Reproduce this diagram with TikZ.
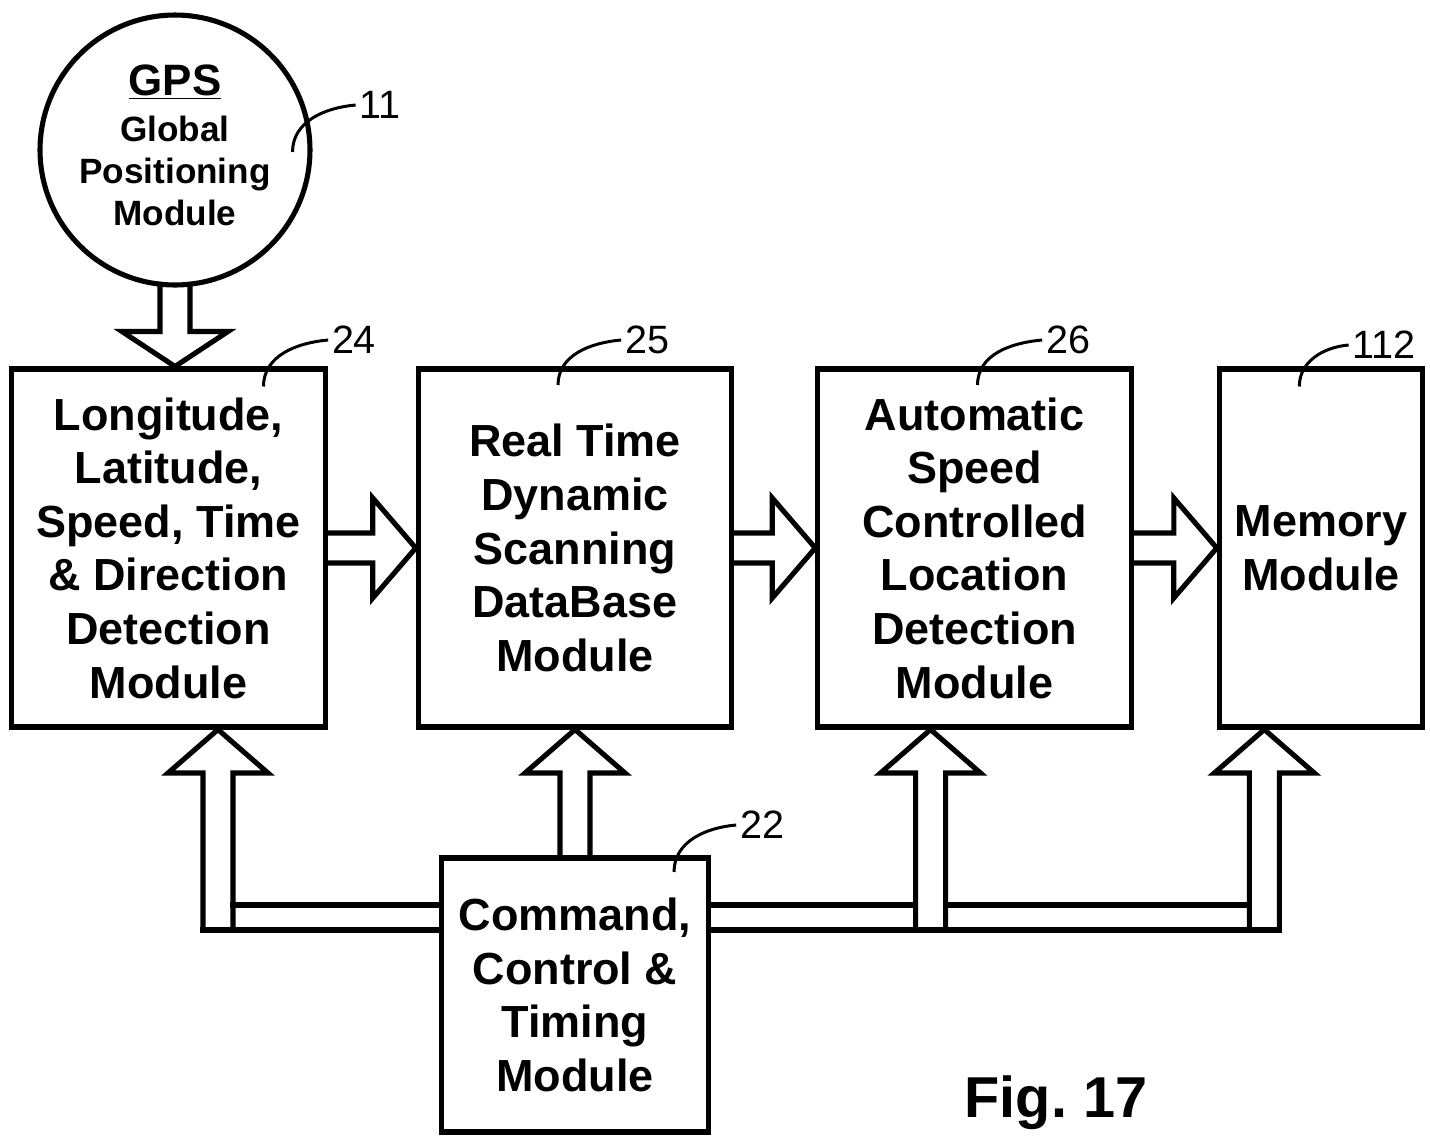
\documentclass[tikz,border=0pt]{standalone}
\usepackage{fontspec}
\setmainfont{Liberation Sans}
\usetikzlibrary{positioning}
\newcommand{\modfont}{\fontsize{25.6pt}{30.5pt}\selectfont\bfseries}
\newcommand{\numfont}{\fontsize{22.5pt}{24pt}\selectfont}
\tikzset{module/.style={rectangle,draw,line width=2.9pt,align=center,inner sep=0pt,
	 minimum width=6.27cm,minimum height=7.16cm,font=\modfont},
	 gpsmod/.style={circle,draw,line width=2.9pt,align=center,inner sep=0pt,text depth=0.2cm,
	 minimum size=5.4cm,font=\fontsize{20pt}{24pt}\selectfont\bfseries},
	 block/.style={draw,line width=2.9pt,line cap=rect},
	 leader/.style={line width=1.7pt},
	 refnum/.style={font=\numfont,inner sep=2pt}
	 }

\begin{document}
\begin{tikzpicture}[x=0.02cm,y=-0.02cm] % grid in pixels of the figure
	\useasboundingbox (0,0) rectangle (1430,1136);
	\node[gpsmod] (gps) at (175,150) {{\fontsize{25pt}{25pt}\selectfont\underline{GPS}}\\[2pt] Global\\ Positioning\\ Module};
	\node[module] (lld) at (168.5,548) {Longitude,\\ Latitude,\\ Speed, Time\\ \& Direction\\ Detection\\ Module};
	\node[module] (rtd) [right=1.76cm of lld] {Real Time\\ Dynamic\\ Scanning\\ DataBase\\ Module};
	\node[module] (asc) [right=1.62cm of rtd] {Automatic\\ Speed\\ Controlled\\ Location\\ Detection\\ Module};
	\node[module,minimum width=4.06cm] (mem) [right=1.66cm of asc] {Memory\\ Module};
	\node[module,minimum width=5.34cm,minimum height=5.48cm] (cct) [below=2.52cm of rtd] {Command,\\ Control \&\\ Timing\\ Module};
	\node[refnum] (n11) at (380,105) {11};
	\node[refnum] (n24) at (354,340) {24};
	\node[refnum] (n25) at (647,340) {25};
	\node[refnum] (n26) at (1068,340) {26};
	\node[refnum] (n112) at (1384,345) {112};
	\node[refnum] (n22) at (762,825) {22};
	\node[font=\fontsize{32.8pt}{34pt}\selectfont\bfseries] (fig) at (1056,1103) {Fig.\ 17};
	\coordinate (tg) at (gps.south |- lld.north);
	\coordinate (t24) at ([xshift=0.99cm]lld.south);
	\coordinate (t26) at ([xshift=-0.88cm]asc.south);
	\coordinate (t112) at ([xshift=-1.13cm]mem.south);
	\coordinate (bwt) at ([yshift=1.8cm]cct.west);
	\coordinate (bwb) at ([yshift=1.3cm]cct.west);
	\coordinate (bet) at ([yshift=1.8cm]cct.east);
	\coordinate (beb) at ([yshift=1.3cm]cct.east);
	\foreach \t in {t24,t26,t112} {
		\coordinate (l\t) at ([xshift=-0.3cm]\t);
		\coordinate (r\t) at ([xshift=0.3cm]\t);
	}
	% gps feed
	\draw[block] ([xshift=-0.3cm,yshift=0.06cm]gps.south) -- ([xshift=-0.3cm,yshift=0.7cm]tg) -- ++(-38,0) -- (tg) -- ++(53,-35) -- ++(-38,0) -- ([xshift=0.3cm,yshift=0.06cm]gps.south);
	% data path along the row
	\foreach \src/\dst in {lld/rtd, rtd/asc, asc/mem}
		\draw[block] ([yshift=0.3cm]\src.east) -- ([xshift=-0.86cm,yshift=0.3cm]\dst.west) -- ++(0,-35) -- (\dst.west) -- ++(-43,50) -- ++(0,-35) -- ([yshift=-0.3cm]\src.east);
	% control bus
	\foreach \t in {t24,t26,t112}
		\draw[block] (l\t |- bwb) -- ++(0,-157) -- ++(-35,0) -- (\t) -- ++(50,43.5) -- ++(-35,0) -- (r\t |- bwb);
	\draw[block] ([xshift=-0.3cm]cct.north) -- ([xshift=-0.3cm,yshift=-0.87cm]rtd.south) -- ++(-35,0) -- (rtd.south) -- ++(50,43.5) -- ++(-35,0) -- ([xshift=0.3cm]cct.north);
	\draw[block] (lt24 |- bwb) -- (bwb);
	\draw[block] (rt24 |- bwt) -- (bwt);
	\draw[block] (beb) -- (rt112 |- beb);
	\draw[block] (bet) -- (lt26 |- bet);
	\draw[block] (rt26 |- bet) -- (lt112 |- bet);
	% reference leaders
	\draw[leader] (gps.east) ++(-20,2) to[out=90,in=185] (n11.west);
	\draw[leader] (lld.north) ++(95,20) to[out=90,in=185] (n24.west);
	\draw[leader] (rtd.north) ++(-17,18.5) to[out=90,in=185] (n25.west);
	\draw[leader] (asc.north) ++(3,18.5) to[out=90,in=185] (n26.west);
	\draw[leader] (mem.north) ++(-21.5,20) to[out=90,in=185] (n112.west);
	\draw[leader] (cct.north) ++(99,16.5) to[out=90,in=185] (n22.west);
\end{tikzpicture}
\end{document}
